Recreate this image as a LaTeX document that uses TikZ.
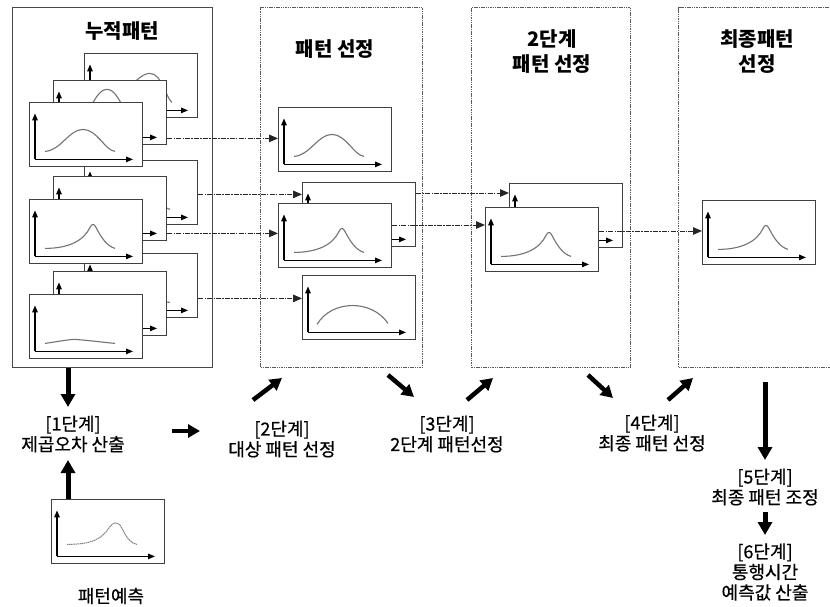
\documentclass[tikz,border=0pt]{standalone}
\usepackage{fontspec}
\setmainfont{Noto Sans CJK KR}
\newfontfamily\krlabel{Noto Sans CJK KR}[FakeBold=0.6]
\usetikzlibrary{arrows.meta,calc}
\tikzset{
  chartbox/.style={draw=black!75, line width=1.4pt, fill=white, minimum width=113pt, minimum height=64pt, inner sep=0pt, anchor=north west},
  axisline/.style={line width=1.2pt, black, -{Triangle[length=7pt,width=5.5pt]}},
  curveline/.style={line width=1.1pt, black!55},
  predline/.style={line width=1pt, black!50, dash pattern=on 1.5pt off 0.6pt},
  conn/.style={line width=1pt, black!85, dash pattern=on 5pt off 1.2pt on 1.5pt off 1.2pt, -{Triangle[length=9pt,width=7.5pt]}},
  solidbox/.style={draw=black!72, line width=1.3pt, inner sep=0pt, anchor=north west},
  dotbox/.style={draw=black!65, line width=1.1pt, dash pattern=on 1.5pt off 0.8pt, inner sep=0pt, anchor=north west},
  bigarrow/.style={line width=5pt, black, -{Triangle[length=13pt,width=14pt]}},
  midarrow/.style={line width=4.5pt, black, -{Triangle[length=12pt,width=13pt]}},
  titletext/.style={font=\fontsize{20}{25}\selectfont\bfseries, align=center, inner sep=0pt},
  steptext/.style={font=\krlabel\fontsize{18}{20.5}\selectfont, align=center, inner sep=0pt}
}
\newcommand{\mkchart}[4]{%
  \node[chartbox] (#1) at (#2,#3) {};
  \begin{scope}[shift={(#1.south west)}]
    \draw[axisline] (6,-8) -- (6,-54);
    \draw[axisline] (6,-8) -- (104,-8);
    #4
  \end{scope}}
\newcommand{\cbell}{\draw[curveline] (16,-16) .. controls (32,-17) and (40,-38) .. (54,-38) .. controls (68,-38) and (76,-17) .. (86,-16);}
\newcommand{\cbellhi}{\draw[curveline] (16,-16) .. controls (34,-18) and (40,-56) .. (54,-56) .. controls (68,-56) and (74,-18) .. (86,-16);}
\newcommand{\cbellbk}{\draw[curveline] (20,-16) .. controls (40,-18) and (52,-45) .. (66,-45) .. controls (78,-45) and (82,-20) .. (88,-16);}
\newcommand{\cskew}{\draw[curveline] (16,-16) .. controls (40,-16) and (55,-24) .. (61,-37) .. controls (63,-41) and (65,-41) .. (67,-37) .. controls (73,-25) and (79,-18) .. (86,-16);}
\newcommand{\cflat}{\draw[curveline] (16,-16) .. controls (30,-18) and (40,-20) .. (46,-20) .. controls (60,-19) and (75,-17) .. (86,-16);}
\newcommand{\carch}{\draw[curveline] (15,-16) .. controls (30,-41) and (70,-41) .. (86,-17);}
\newcommand{\cpred}{\draw[predline] (16,-20) .. controls (42,-20) and (50,-26) .. (57,-35) .. controls (62,-43) and (67,-44) .. (71,-36) .. controls (76,-26) and (80,-21) .. (86,-20);}
\begin{document}
\begin{tikzpicture}[x=1pt,y=-1pt]
\useasboundingbox (0,0) rectangle (830,607);
\clip (0,0) rectangle (830,607);
% stage boxes
\node[solidbox, minimum width=200pt, minimum height=360pt] (S1) at (12,7) {};
\node[dotbox, minimum width=162pt, minimum height=360pt] (S2) at (260,7) {};
\node[dotbox, minimum width=159pt, minimum height=360pt] (S3) at (471,7) {};
\node[dotbox, minimum width=170pt, minimum height=360pt] (S4) at (678,7) {};
% titles
\node[titletext] (T1) at (122,31) {누적패턴};
\node[titletext] (T2) at (335,49) {패턴 선정};
\node[titletext] (T3) at (552,52) {2단계\\패턴 선정};
\node[titletext] (T4) at (757,52) {최종패턴\\선정};
% accumulated pattern stacks: backs, mids, fronts
\mkchart{g1b}{84}{53}{\cbellbk}
\mkchart{g2b}{84}{160}{\cskew}
\mkchart{g3b}{84}{253}{\cflat}
\mkchart{g1m}{53}{80}{\cbellhi}
\mkchart{g2m}{53}{176}{\cskew}
\mkchart{g3m}{53}{271}{\cflat}
\mkchart{g1f}{29}{102}{\cbell}
\mkchart{g2f}{29}{199}{\cskew}
\mkchart{g3f}{29}{294}{\cflat}
% pattern selection
\mkchart{pA}{278}{107}{\cbell}
\mkchart{pBb}{302}{182}{\cskew}
\mkchart{pBf}{278}{203}{\cskew}
\mkchart{pC}{302}{275}{\carch}
% second stage
\mkchart{s2b}{509}{183}{\cskew}
\mkchart{s2f}{485}{207}{\cskew}
% final
\mkchart{fin}{702}{200}{\cskew}
% prediction
\mkchart{pred}{51}{499}{\cpred}
% connectors
\coordinate (c1) at ($(g1m.south east)+(0,-7)$);
\coordinate (c2) at ($(g2b.south east)+(0,-31)$);
\coordinate (c3) at ($(g2m.south east)+(0,-8)$);
\coordinate (c4) at ($(g3b.south east)+(0,-20)$);
\coordinate (c5) at ($(pBb.north east)+(0,11)$);
\coordinate (c6) at ($(pBf.north east)+(0,22)$);
\coordinate (c7) at ($(s2f.north east)+(0,24)$);
\draw[conn] (c1) -- (c1 -| pA.west);
\draw[conn] (c2) -- (c2 -| pBb.west);
\draw[conn] (c3) -- (c3 -| pBf.west);
\draw[conn] (c4) -- (c4 -| pC.west);
\draw[conn] (c5) -- (c5 -| s2b.west);
\draw[conn] (c6) -- (c6 -| s2f.west);
\draw[conn] (c7) -- (c7 -| fin.west);
% step labels
\node[steptext] (L1) at (73,434) {[1단계]\\제곱오차 산출};
\node[steptext] (L2) at (282,439) {[2단계]\\대상 패턴 선정};
\node[steptext] (L3) at (447,434) {[3단계]\\2단계 패턴선정};
\node[steptext] (L4) at (652,433) {[4단계]\\최종 패턴 선정};
\node[steptext] (L5) at (765,487) {[5단계]\\최종 패턴 조정};
\node[steptext] (L6) at (765,572) {[6단계]\\통행시간\\예측값 산출};
\node[steptext] (LP) at (111,596) {패턴예측};
% step arrows
\coordinate (a1s) at (S1.south -| 68,0);
\coordinate (a1e) at (68,407);
\coordinate (a2s) at (pred.north -| 68,0);
\coordinate (a2e) at (68,460);
\coordinate (a3s) at (172,431);
\coordinate (a3e) at (200,431);
\coordinate (a4s) at (253,400);
\coordinate (a4e) at (282,378);
\coordinate (a5s) at (388,375);
\coordinate (a5e) at (414,397);
\coordinate (a6s) at (467,400);
\coordinate (a6e) at (493,378);
\coordinate (a7s) at (588,375);
\coordinate (a7e) at (613,398);
\coordinate (a8s) at (668,400);
\coordinate (a8e) at (693,378);
\coordinate (a9s) at (765,382);
\coordinate (a9e) at (765,460);
\coordinate (a10s) at (765,512);
\coordinate (a10e) at (765,535);
\draw[bigarrow] (a1s) -- (a1e);
\draw[bigarrow] (a2s) -- (a2e);
\draw[midarrow] (a3s) -- (a3e);
\draw[midarrow] (a4s) -- (a4e);
\draw[midarrow] (a5s) -- (a5e);
\draw[midarrow] (a6s) -- (a6e);
\draw[midarrow] (a7s) -- (a7e);
\draw[midarrow] (a8s) -- (a8e);
\draw[bigarrow] (a9s) -- (a9e);
\draw[bigarrow] (a10s) -- (a10e);
\end{tikzpicture}
\end{document}
